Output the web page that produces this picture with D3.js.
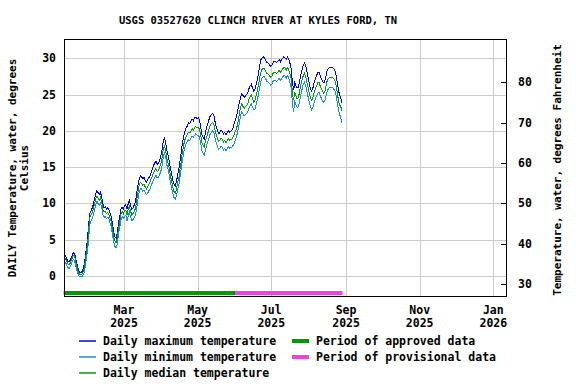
<!DOCTYPE html>
<html>
<head>
<meta charset="utf-8">
<script src="https://cdn.jsdelivr.net/npm/d3@7"></script>
<style>
    body { margin: 0; background: #fff; }
    svg text { font-family: "DejaVu Sans Mono", monospace; font-weight: bold; fill: #000; }
</style>
</head>
<body>
<svg id="chart" width="576" height="384"></svg>
<script>
// daily values from 2025-01-10 through 2025-08-28, degrees Celsius
const firstDay = '2025-01-10';

const medianTemp = [
    // Jan 10-31
    2.6, 2.4, 2.0, 1.7, 1.5, 1.8, 2.2, 2.7, 2.9, 2.4, 1.6, 0.9, 0.4, 0.2, 0.2, 0.3, 0.7, 1.5, 2.8, 4.0, 5.6, 8.0,
    // Feb
    8.3, 8.7, 9.2, 9.9, 10.6, 11.0, 10.7, 10.4, 10.8, 10.2, 9.1, 8.8, 8.9, 8.6, 8.8, 8.5, 8.0, 7.4, 6.4, 5.4,
    4.8, 4.6, 5.3, 6.6, 7.5, 8.5, 8.9, 8.6,
    // Mar
    9.0, 9.1, 8.4, 9.2, 9.6, 8.9, 8.4, 8.6, 8.9, 9.3, 10.4, 11.5, 12.4, 12.9, 12.8, 12.5, 12.7, 12.3, 12.0, 12.3,
    12.6, 12.9, 13.4, 13.8, 14.2, 14.6, 14.8, 14.4, 14.5, 15.0, 15.4,
    // Apr
    16.2, 17.4, 18.0, 17.3, 16.2, 15.6, 14.8, 13.8, 13.0, 12.2, 11.6, 11.4, 12.0, 12.9, 13.6, 14.8, 15.9, 17.2, 18.1, 18.8,
    19.2, 19.5, 19.8, 19.7, 20.0, 20.3, 20.1, 20.5, 20.6, 20.4,
    // May
    20.5, 20.2, 19.4, 18.4, 18.0, 17.8, 18.6, 19.2, 19.7, 20.3, 20.8, 21.0, 21.2, 20.9, 20.0, 19.4, 18.9, 18.6, 18.7, 19.0,
    18.8, 18.5, 18.7, 18.4, 18.6, 18.9, 18.7, 18.8, 18.9, 19.2, 19.6,
    // Jun
    20.0, 20.5, 21.2, 22.2, 23.2, 23.7, 23.4, 23.1, 23.3, 23.5, 23.7, 24.3, 24.7, 24.9, 24.4, 24.0, 24.2, 24.9, 25.6, 26.4,
    27.4, 28.1, 28.5, 28.6, 28.5, 28.2, 27.9, 27.8, 27.6, 27.4,
    // Jul
    27.5, 27.9, 28.1, 28.0, 27.9, 28.1, 28.3, 28.0, 28.3, 28.5, 28.8, 28.6, 28.4, 28.7, 28.4, 27.8, 27.2, 25.3, 24.2, 25.3,
    24.8, 24.4, 24.6, 25.4, 26.3, 27.0, 27.6, 27.9, 27.5, 26.7, 26.0,
    // Aug 1-28
    25.2, 24.5, 24.2, 24.6, 25.3, 25.8, 26.2, 26.6, 26.7, 26.2, 25.8, 25.4, 25.2, 25.5, 26.3, 27.0, 27.2, 27.4, 27.3, 27.4,
    27.2, 27.0, 26.5, 25.5, 24.4, 23.6, 23.4, 22.8
];

const maxTemp = [
    2.9, 2.8, 2.4, 2.0, 1.9, 2.2, 2.6, 3.1, 3.2, 2.8, 2.0, 1.3, 0.8, 0.5, 0.5, 0.7, 1.2, 2.1, 3.4, 4.8, 6.6, 8.6,
    8.9, 9.3, 9.8, 10.6, 11.3, 11.8, 11.5, 11.2, 11.5, 10.9, 9.9, 9.4, 9.5, 9.2, 9.4, 9.1, 8.7, 8.1, 7.1, 6.1,
    5.4, 5.2, 6.0, 7.3, 8.2, 9.2, 9.5, 9.2,
    9.7, 9.8, 9.2, 10.0, 10.4, 9.7, 9.2, 9.4, 9.8, 10.2, 11.4, 12.5, 13.3, 13.8, 13.7, 13.4, 13.6, 13.2, 12.9, 13.2,
    13.5, 13.8, 14.3, 14.8, 15.2, 15.6, 15.8, 15.4, 15.5, 16.0, 16.5,
    17.3, 18.5, 19.1, 18.4, 17.3, 16.6, 15.8, 14.8, 14.0, 13.2, 12.6, 12.4, 13.0, 14.0, 14.8, 16.0, 17.1, 18.4, 19.3, 20.0,
    20.4, 20.7, 21.1, 21.0, 21.3, 21.6, 21.4, 21.8, 21.9, 21.7,
    21.8, 21.5, 20.6, 19.5, 19.1, 18.9, 19.8, 20.5, 21.0, 21.6, 22.1, 22.3, 22.4, 22.1, 21.2, 20.5, 20.0, 19.6, 19.8, 20.1,
    19.9, 19.6, 19.8, 19.5, 19.7, 20.0, 19.8, 19.9, 20.1, 20.5, 21.2,
    21.6, 22.2, 23.0, 23.8, 24.6, 25.1, 24.9, 24.6, 24.8, 25.0, 25.2, 25.8, 26.2, 26.4, 25.9, 25.5, 25.7, 26.4, 27.1, 28.0,
    29.0, 29.8, 30.1, 30.2, 30.0, 29.7, 29.4, 29.3, 29.1, 28.9,
    29.0, 29.4, 29.6, 29.5, 29.4, 29.6, 29.8, 29.5, 29.8, 30.0, 30.2, 30.0, 29.9, 30.2, 29.9, 29.3, 28.6, 26.8, 25.6, 26.6,
    26.2, 25.9, 26.0, 26.8, 27.7, 28.4, 29.0, 29.3, 29.0, 28.2, 27.4,
    26.5, 25.8, 25.5, 25.9, 26.6, 27.2, 27.6, 28.0, 28.1, 27.6, 27.2, 26.8, 26.6, 26.9, 27.7, 28.4, 28.6, 28.8, 28.7, 28.8,
    28.6, 28.4, 27.9, 26.9, 25.8, 25.0, 24.6, 23.8
];

const minTemp = [
    2.1, 1.9, 1.5, 1.2, 1.0, 1.3, 1.7, 2.2, 2.3, 1.8, 1.0, 0.4, 0.0, -0.1, -0.1, 0.0, 0.2, 0.9, 2.0, 3.2, 4.6, 7.0,
    7.5, 7.9, 8.4, 9.0, 9.8, 10.3, 10.0, 9.7, 10.0, 9.5, 8.4, 8.1, 8.2, 7.9, 8.1, 7.9, 7.3, 6.7, 5.7, 4.7,
    4.1, 3.9, 4.5, 5.8, 6.7, 7.7, 8.2, 7.9,
    8.2, 8.4, 7.6, 8.3, 8.8, 8.1, 7.6, 7.8, 8.0, 8.4, 9.3, 10.5, 11.5, 12.0, 12.0, 11.7, 11.8, 11.5, 11.2, 11.4,
    11.7, 12.0, 12.4, 12.9, 13.2, 13.6, 13.9, 13.5, 13.6, 14.0, 14.4,
    15.2, 16.3, 17.0, 16.4, 15.3, 14.7, 13.9, 12.9, 12.1, 11.3, 10.8, 10.6, 11.1, 11.9, 12.6, 13.8, 14.9, 16.1, 17.0, 17.8,
    18.2, 18.5, 18.8, 18.7, 19.0, 19.3, 19.1, 19.4, 19.6, 19.4,
    19.4, 19.1, 18.3, 17.3, 16.9, 16.7, 17.4, 18.0, 18.5, 19.1, 19.6, 19.8, 20.0, 19.8, 18.9, 18.3, 17.8, 17.5, 17.6, 17.9,
    17.7, 17.4, 17.6, 17.3, 17.5, 17.8, 17.6, 17.7, 17.8, 18.0, 18.3,
    18.8, 19.4, 20.1, 21.0, 22.0, 22.6, 22.4, 22.1, 22.2, 22.4, 22.6, 23.1, 23.5, 23.7, 23.3, 22.9, 23.0, 23.7, 24.3, 25.1,
    26.0, 26.8, 27.3, 27.5, 27.4, 27.1, 26.8, 26.7, 26.5, 26.3,
    26.4, 26.8, 27.0, 26.9, 26.8, 27.0, 27.2, 26.9, 27.2, 27.4, 27.7, 27.5, 27.3, 27.6, 27.3, 26.6, 25.9, 23.9, 22.6, 24.0,
    23.6, 23.2, 23.3, 24.1, 25.0, 25.7, 26.4, 26.7, 26.3, 25.5, 24.7,
    24.0, 23.3, 22.9, 23.2, 23.9, 24.4, 24.8, 25.2, 25.3, 24.9, 24.5, 24.1, 23.9, 24.2, 24.9, 25.6, 25.8, 26.0, 25.9, 26.0,
    25.8, 25.6, 25.1, 24.1, 23.1, 22.3, 21.9, 21.1
];

const celsiusTicks = [0, 5, 10, 15, 20, 25, 30];
const fahrenheitTicks = [30, 40, 50, 60, 70, 80];
const monthTicks = ['2025-03-01', '2025-05-01', '2025-07-01', '2025-09-01', '2025-11-01', '2026-01-01'];
const approvedPeriod = ['2025-01-10', '2025-06-01'];
const provisionalPeriod = ['2025-06-01', '2025-08-29'];

const seriesInfo = [
    { name: 'Daily minimum temperature', values: minTemp, color: '#1b8fdc' },
    { name: 'Daily maximum temperature', values: maxTemp, color: '#0000ff' },
    { name: 'Daily median temperature', values: medianTemp, color: '#00a000' }
];

const svg = d3.select('#chart');
const plot = { left: 64, right: 506, top: 39, bottom: 296 };

const parseDay = d3.utcParse('%Y-%m-%d');
const start = parseDay(firstDay);
const days = medianTemp.map((_, i) => d3.utcHour.offset(d3.utcDay.offset(start, i), 12));

const x = d3.scaleUtc()
    .domain([d3.utcHour.offset(start, 7), d3.utcHour.offset(parseDay('2026-01-11'), 12)])
    .range([plot.left, plot.right]);
const y = d3.scaleLinear()
    .domain([-2.75, 32.65])
    .range([plot.bottom, plot.top]);
const yF = d3.scaleLinear()
    .domain(y.domain().map(c => c * 9 / 5 + 32))
    .range(y.range());

svg.append('rect').attr('width', 576).attr('height', 384).attr('fill', '#fff');

// grid
svg.append('g').selectAll('line')
    .data(celsiusTicks)
    .enter()
    .append('line')
    .attr('x1', plot.left).attr('x2', plot.right)
    .attr('y1', d => Math.round(y(d)) + 0.5).attr('y2', d => Math.round(y(d)) + 0.5)
    .attr('stroke', '#cccccc');
svg.append('g').selectAll('line')
    .data(monthTicks)
    .enter()
    .append('line')
    .attr('x1', d => Math.round(x(parseDay(d))) + 0.5).attr('x2', d => Math.round(x(parseDay(d))) + 0.5)
    .attr('y1', plot.top).attr('y2', plot.bottom)
    .attr('stroke', '#cccccc');

// right axis ticks
svg.append('g').selectAll('line')
    .data(fahrenheitTicks)
    .enter()
    .append('line')
    .attr('x1', plot.right - 5).attr('x2', plot.right)
    .attr('y1', d => Math.round(yF(d)) + 0.5).attr('y2', d => Math.round(yF(d)) + 0.5)
    .attr('stroke', '#000');

// series
seriesInfo.forEach(s => {
    const line = d3.line()
        .x((_, i) => x(days[i]))
        .y(d => y(d));
    svg.append('path')
        .datum(s.values)
        .attr('d', line)
        .attr('fill', 'none')
        .attr('stroke', s.color)
        .attr('stroke-width', 1)
        .attr('shape-rendering', 'crispEdges');
});

// approval periods
const periods = [
    { range: approvedPeriod, color: '#009a00' },
    { range: provisionalPeriod, color: '#ee44dd' }
];
svg.append('g').selectAll('rect')
    .data(periods)
    .enter()
    .append('rect')
    .attr('x', d => Math.max(plot.left - 1, x(parseDay(d.range[0]))))
    .attr('width', d => x(parseDay(d.range[1])) - Math.max(plot.left - 1, x(parseDay(d.range[0]))))
    .attr('y', 291)
    .attr('height', 4)
    .attr('fill', d => d.color);

// frame
svg.append('rect')
    .attr('x', plot.left + 0.5).attr('y', plot.top + 0.5)
    .attr('width', plot.right - plot.left).attr('height', plot.bottom - plot.top)
    .attr('fill', 'none').attr('stroke', '#000');

// tick labels
svg.append('g').selectAll('text')
    .data(celsiusTicks)
    .enter()
    .append('text')
    .attr('x', 56)
    .attr('y', d => y(d) + 4)
    .attr('text-anchor', 'end')
    .style('font-size', '11.5px')
    .text(d => d);
svg.append('g').selectAll('text')
    .data(fahrenheitTicks)
    .enter()
    .append('text')
    .attr('x', 518)
    .attr('y', d => yF(d) + 4)
    .style('font-size', '11.5px')
    .text(d => d);
const monthLabels = svg.append('g').selectAll('text')
    .data(monthTicks)
    .enter()
    .append('text')
    .attr('x', d => x(parseDay(d)))
    .attr('text-anchor', 'middle')
    .style('font-size', '11.5px');
monthLabels.append('tspan')
    .attr('x', d => x(parseDay(d)))
    .attr('y', 314)
    .text(d => d3.utcFormat('%b')(parseDay(d)));
monthLabels.append('tspan')
    .attr('x', d => x(parseDay(d)))
    .attr('y', 327)
    .text(d => d3.utcFormat('%Y')(parseDay(d)));

// titles
svg.append('text')
    .attr('x', 258).attr('y', 24)
    .attr('text-anchor', 'middle')
    .style('font-size', '10.5px')
    .text('USGS 03527620 CLINCH RIVER AT KYLES FORD, TN');
svg.append('text')
    .attr('transform', 'translate(16,168) rotate(-90)')
    .attr('text-anchor', 'middle')
    .style('font-size', '11px')
    .text('DAILY Temperature, water, degrees');
svg.append('text')
    .attr('transform', 'translate(28,168) rotate(-90)')
    .attr('text-anchor', 'middle')
    .style('font-size', '11px')
    .text('Celsius');
svg.append('text')
    .attr('transform', 'translate(561,170) rotate(-90)')
    .attr('text-anchor', 'middle')
    .style('font-size', '11px')
    .text('Temperature, water, degrees Fahrenheit');

// legend
const legendItems = [
    { name: 'Daily maximum temperature', color: '#0000ff', w: 1.5, col: 0, row: 0 },
    { name: 'Daily minimum temperature', color: '#1b8fdc', w: 1.5, col: 0, row: 1 },
    { name: 'Daily median temperature', color: '#00a000', w: 1.5, col: 0, row: 2 },
    { name: 'Period of approved data', color: '#009a00', w: 4, col: 1, row: 0 },
    { name: 'Period of provisional data', color: '#ee44dd', w: 4, col: 1, row: 1 }
];
const legendX = [79, 292];
const legend = svg.append('g').selectAll('g')
    .data(legendItems)
    .enter()
    .append('g')
    .attr('transform', d => `translate(${legendX[d.col]},${341 + 16 * d.row})`);
legend.append('line')
    .attr('x1', 0).attr('x2', 17)
    .attr('y1', 0).attr('y2', 0)
    .style('stroke', d => d.color)
    .style('stroke-width', d => d.w);
legend.append('text')
    .attr('x', 24).attr('y', 4)
    .style('font-size', '11.5px')
    .text(d => d.name);
</script>
</body>
</html>
